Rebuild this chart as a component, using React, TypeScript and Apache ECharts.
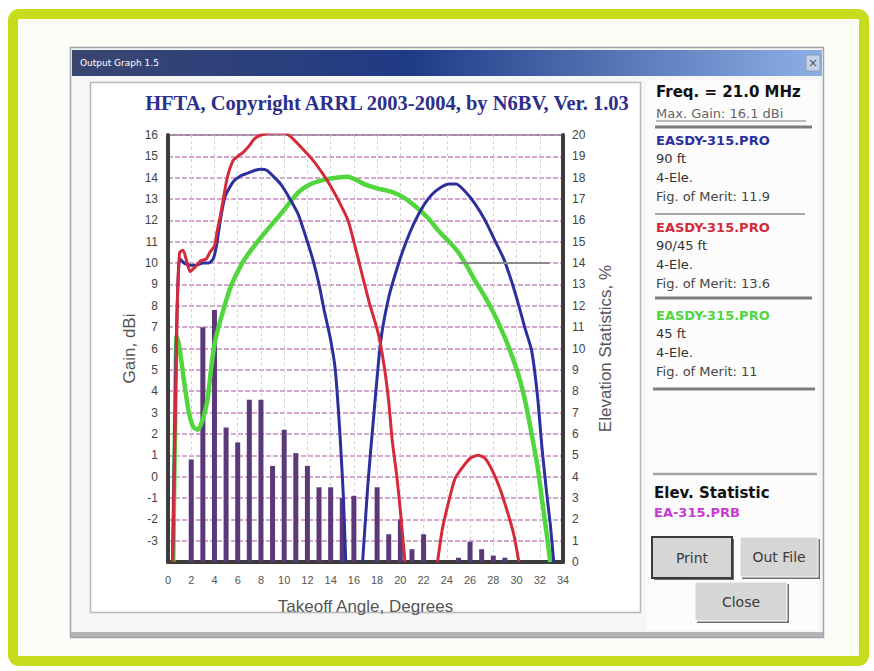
import React, { useEffect, useRef } from 'react';
import * as echarts from 'echarts';

// ---------- data ----------
const xMin = 0;
const xMax = 34;
const gainMin = -4;
const gainMax = 16;
const statMin = 0;
const statMax = 20;

// EASDY-315.PRO 90/45 ft (red)
const redAngles1 = [0.4, 0.6, 0.8, 1.0, 1.3, 1.6, 1.9, 2.3, 2.8, 3.3, 3.6, 4.0, 4.2, 4.5, 4.7, 5.1, 5.6, 6.0, 6.5, 7.0, 7.4, 8.0, 9.0, 10.0, 10.6, 11.5, 12.5, 13.3, 14.0, 14.8, 15.5, 16.0, 16.6, 17.3, 18.1, 18.6, 19.0, 19.3, 19.7, 20.0, 20.2, 20.4];
const redGain1 = [-4, 2.0, 8.0, 10.5, 10.6, 10.1, 9.6, 9.8, 10.1, 10.2, 10.5, 10.8, 11.4, 12.2, 12.8, 14.0, 14.8, 15.0, 15.2, 15.5, 15.8, 16.0, 16.1, 16.1, 15.9, 15.4, 14.8, 14.2, 13.6, 12.8, 12.0, 11.0, 9.7, 8.2, 6.7, 5.2, 3.5, 1.7, 0.0, -1.6, -2.8, -4];
const redAngles2 = [23.2, 23.6, 24.1, 24.7, 25.3, 26.0, 26.7, 27.3, 27.9, 28.6, 29.3, 29.8, 30.2];
const redGain2 = [-4, -2.5, -1.3, -0.1, 0.4, 0.85, 1.0, 0.85, 0.3, -0.6, -1.8, -2.8, -4];

// EASDY-315.PRO 90 ft (blue)
const blueAngles1 = [0.4, 0.7, 1.0, 1.4, 1.9, 2.4, 3.0, 3.5, 3.9, 4.2, 4.5, 4.9, 5.6, 6.3, 6.8, 7.5, 8.0, 8.5, 9.0, 9.7, 10.4, 11.2, 12.0, 12.5, 13.0, 13.4, 14.0, 14.4, 14.8, 15.1, 15.3];
const blueGain1 = [-4, 6.0, 10.2, 10.0, 9.9, 9.9, 10.0, 10.0, 10.2, 10.9, 12.0, 13.1, 13.8, 14.1, 14.2, 14.35, 14.4, 14.35, 14.1, 13.7, 13.1, 12.3, 11.0, 10.1, 9.0, 7.9, 6.4, 5.0, 2.0, -1.0, -4];
const blueAngles2 = [16.75, 17.2, 17.7, 18.3, 19.0, 19.8, 20.5, 21.2, 22.0, 22.7, 23.5, 24.2, 24.8, 25.5, 26.4, 27.3, 28.1, 28.9, 29.6, 30.2, 30.7, 31.3, 31.8, 32.2, 32.6, 32.9, 33.2];
const blueGain2 = [-4, -0.4, 2.8, 6.3, 8.4, 9.9, 11.0, 11.9, 12.7, 13.2, 13.55, 13.7, 13.7, 13.4, 12.8, 12.0, 11.1, 10.2, 9.1, 8.0, 7.0, 5.9, 3.8, 1.3, -0.8, -2.2, -4];

// EASDY-315.PRO 45 ft (green)
const greenAngles = [0.45, 0.6, 0.75, 1.0, 1.4, 1.8, 2.2, 2.6, 3.0, 3.4, 3.7, 4.0, 4.5, 5.4, 6.5, 8.0, 9.7, 11.2, 12.3, 13.4, 14.5, 15.5, 16.2, 16.9, 18.0, 19.2, 20.2, 21.2, 22.4, 23.3, 24.2, 25.0, 25.8, 26.4, 27.2, 27.9, 28.6, 29.3, 30.2, 30.8, 31.3, 31.8, 32.2, 32.6, 32.9];
const greenGain = [-4, 2.0, 6.6, 6.0, 4.4, 3.0, 2.3, 2.2, 2.7, 3.6, 5.0, 6.2, 7.3, 8.9, 10.1, 11.2, 12.3, 13.3, 13.7, 13.9, 14.0, 14.05, 13.9, 13.7, 13.5, 13.35, 13.1, 12.7, 12.1, 11.5, 11.0, 10.5, 9.8, 9.2, 8.5, 7.8, 7.0, 6.1, 4.7, 3.4, 2.0, 0.5, -1.1, -2.7, -4];

// Elevation statistics (%), right axis
const statAngles = [2, 3, 4, 5, 6, 7, 8, 9, 10, 11, 12, 13, 14, 15, 16, 17, 18, 19, 20, 21, 22, 23, 24, 25, 26, 27, 28, 29];
const statPercent = [4.8, 11.0, 11.8, 6.3, 5.6, 7.6, 7.6, 4.5, 6.2, 5.1, 4.5, 3.5, 3.5, 3.0, 3.1, 0, 3.5, 1.3, 2.0, 0.6, 1.3, 0, 0, 0.2, 0.95, 0.6, 0.3, 0.2];

// gray reference segment
const refGain = 10;
const refFrom = 25.0;
const refTo = 32.8;

// texts
const chartTitle = 'HFTA, Copyright ARRL 2003-2004, by N6BV, Ver. 1.03';
const windowTitle = 'Output Graph 1.5';
const freqText = 'Freq. = 21.0 MHz';
const maxGainText = 'Max. Gain: 16.1 dBi';
const antennaNames = ['EASDY-315.PRO', 'EASDY-315.PRO', 'EASDY-315.PRO'];
const antennaHeights = ['90 ft', '90/45 ft', '45 ft'];
const antennaElements = ['4-Ele.', '4-Ele.', '4-Ele.'];
const antennaMerit = ['Fig. of Merit: 11.9', 'Fig. of Merit: 13.6', 'Fig. of Merit: 11'];
const statTitle = 'Elev. Statistic';
const statFile = 'EA-315.PRB';

const pairs = (xs: number[], ys: number[]) => xs.map((x, i) => [x, ys[i]]);

const RED = '#d42a3a';
const BLUE = '#2c2f9c';
const GREEN = '#52d63e';
const PURPLE = '#5b3878';

const SANS = '"DejaVu Sans"';

export default function App() {
  const ref = useRef<HTMLDivElement>(null);

  useEffect(() => {
    if (!ref.current) return;
    const chart = echarts.init(ref.current, undefined, { renderer: 'svg' });

    const txt = (x: number, y: number, text: string, font: string, fill: string, align = 'left', extra: any = {}) => ({
      type: 'text',
      x,
      y,
      z: 50,
      style: { text, font, fill, textAlign: align, textVerticalAlign: 'middle' },
      ...extra,
    });
    const hline = (x1: number, x2: number, y: number, color: string, w: number) => ({
      type: 'line',
      z: 40,
      shape: { x1, y1: y, x2, y2: y },
      style: { stroke: color, lineWidth: w },
    });

    const legendColors = [BLUE, RED, GREEN];
    const blockTops = [140, 227, 315];
    const legendBlocks: any[] = [];
    antennaNames.forEach((n, i) => {
      const t = blockTops[i];
      legendBlocks.push(txt(656, t, n, `bold 13px ${SANS}`, legendColors[i]));
      legendBlocks.push(txt(656, t + 18.5, antennaHeights[i], `13px ${SANS}`, '#333'));
      legendBlocks.push(txt(656, t + 37, antennaElements[i], `13px ${SANS}`, '#333'));
      legendBlocks.push(txt(656, t + 56, antennaMerit[i], `13px ${SANS}`, '#444'));
    });

    const button = (x: number, y: number, w: number, h: number, label: string, focused: boolean) => [
      {
        type: 'rect', z: 40,
        shape: { x: x + 2, y: y + 2, width: w, height: h },
        style: { fill: '#6e6e6e' },
      },
      {
        type: 'rect', z: 41,
        shape: { x, y, width: w, height: h },
        style: { fill: '#d6d6d6', stroke: focused ? '#3a3a3a' : '#ffffff', lineWidth: focused ? 2 : 1 },
      },
      txt(x + w / 2, y + h / 2, label, `14px ${SANS}`, '#3a3a3a', 'center'),
    ];

    const elements: any[] = [
      // lime frame
      {
        type: 'rect', z: -20,
        shape: { x: 13, y: 14, width: 851, height: 647, r: 6 },
        style: { fill: '#fdfdf8', stroke: '#c8dc1e', lineWidth: 10 },
      },
      // dialog
      {
        type: 'rect', z: -15,
        shape: { x: 70.5, y: 47.5, width: 753, height: 590 },
        style: { fill: '#f6f6f6', stroke: '#9ea4ae', lineWidth: 1.5 },
      },
      {
        type: 'rect', z: -14,
        shape: { x: 71, y: 632, width: 752, height: 5 },
        style: { fill: '#b4b4b4' },
      },
      // title bar
      {
        type: 'rect', z: -14,
        shape: { x: 72, y: 50, width: 750, height: 26 },
        style: {
          fill: new echarts.graphic.LinearGradient(0, 0, 1, 0, [
            { offset: 0, color: '#3a4670' },
            { offset: 0.45, color: '#1f3a86' },
            { offset: 1, color: '#8cb0e6' },
          ]),
        },
      },
      txt(80, 63, windowTitle, `9px ${SANS}`, '#ffffff'),
      {
        type: 'rect', z: -13,
        shape: { x: 806, y: 55, width: 14, height: 16 },
        style: { fill: '#c4d2ea', stroke: '#8a9ab8', lineWidth: 1 },
      },
      txt(813, 63, '×', `12px ${SANS}`, '#555', 'center'),
      // chart panel
      {
        type: 'rect', z: -12,
        shape: { x: 90.5, y: 82.5, width: 550, height: 530 },
        style: { fill: '#ffffff', stroke: '#b8b8b8', lineWidth: 1.5 },
      },
      // legend panel
      {
        type: 'rect', z: -12,
        shape: { x: 646, y: 80, width: 173, height: 550 },
        style: { fill: '#fcfcfc' },
      },
      txt(387, 103, chartTitle, 'bold 20.5px "Liberation Serif"', '#2e2e8c', 'center'),
      // legend texts
      txt(656, 92, freqText, `bold 15px ${SANS}`, '#111'),
      txt(656, 113, maxGainText, `13px ${SANS}`, '#666'),
      hline(656, 806, 121, '#777', 1),
      hline(655, 812, 127, '#7c7c7c', 3),
      ...legendBlocks,
      hline(655, 805, 214, '#a8a8a8', 2),
      hline(655, 812, 298, '#7c7c7c', 3),
      hline(653, 815, 389, '#7c7c7c', 3),
      hline(653, 817, 474, '#a6a6a6', 2.5),
      txt(654, 493, statTitle, `bold 15px ${SANS}`, '#111'),
      txt(654, 512, statFile, `bold 13px ${SANS}`, '#c83ad2'),
      ...button(652, 537, 80, 41, 'Print', true),
      ...button(740, 537, 78, 40, 'Out File', false),
      ...button(695, 582, 92, 39, 'Close', false),
      hline(677, 685, 567, '#3a3a3a', 1),
      hline(725, 735, 611, '#3a3a3a', 1),
    ];

    const option: any = {
      animation: false,
      backgroundColor: '#ffffff',
      textStyle: { fontFamily: 'Liberation Sans' },
      graphic: { elements },
      grid: {
        left: 168, top: 135, width: 395, height: 427,
        show: true, backgroundColor: '#ffffff', borderColor: '#8c8c8c', borderWidth: 2,
      },
      xAxis: {
        type: 'value', min: xMin, max: xMax, interval: 2,
        name: 'Takeoff Angle, Degrees', nameLocation: 'middle', nameGap: 36,
        nameTextStyle: { fontSize: 17, color: '#555', fontFamily: 'Liberation Sans' },
        axisLine: { show: true, onZero: false, lineStyle: { color: '#3c3c3c', width: 4 } },
        axisTick: { show: false },
        axisLabel: { fontSize: 11, color: '#555', margin: 12, fontFamily: 'Liberation Sans' },
        splitLine: { show: true, lineStyle: { color: '#d2d2d2', type: [3, 3], width: 1 } },
      },
      yAxis: [
        {
          type: 'value', min: gainMin, max: gainMax, interval: 1, position: 'left',
          name: 'Gain, dBi', nameLocation: 'middle', nameGap: 30, nameRotate: 90,
          nameTextStyle: { fontSize: 17, color: '#555', fontFamily: 'Liberation Sans' },
          axisLine: { show: true, lineStyle: { color: '#3c3c3c', width: 4 } },
          axisTick: { show: false },
          axisLabel: {
            fontSize: 12, color: '#444', margin: 10, fontFamily: 'Liberation Sans',
            formatter: (v: number) => (v === gainMin ? '' : String(v)),
          },
          splitLine: { show: true, lineStyle: { color: '#c68cc2', type: [5, 2], width: 1.5 } },
        },
        {
          type: 'value', min: statMin, max: statMax, interval: 1, position: 'right',
          name: 'Elevation Statistics, %', nameLocation: 'middle', nameGap: 34, nameRotate: 90,
          nameTextStyle: { fontSize: 17, color: '#555', fontFamily: 'Liberation Sans' },
          axisLine: { show: true, lineStyle: { color: '#3c3c3c', width: 4 } },
          axisTick: { show: false },
          axisLabel: { fontSize: 12, color: '#444', margin: 9, fontFamily: 'Liberation Sans' },
          splitLine: { show: false },
        },
      ],
      series: [
        {
          type: 'bar', yAxisIndex: 1, barWidth: 5,
          data: pairs(statAngles, statPercent),
          itemStyle: { color: PURPLE },
        },
        {
          type: 'line', data: pairs(greenAngles, greenGain), symbol: 'none', smooth: 0.2,
          lineStyle: { color: GREEN, width: 4.5 },
        },
        {
          type: 'line', data: pairs(blueAngles1, blueGain1), symbol: 'none', smooth: 0.2,
          lineStyle: { color: BLUE, width: 3 },
        },
        {
          type: 'line', data: pairs(blueAngles2, blueGain2), symbol: 'none', smooth: 0.2,
          lineStyle: { color: BLUE, width: 3 },
          markLine: {
            silent: true, symbol: 'none', label: { show: false },
            lineStyle: { color: '#8a8a8a', width: 2, type: 'solid' },
            data: [[{ coord: [refFrom, refGain] }, { coord: [refTo, refGain] }]],
          },
        },
        {
          type: 'line', data: pairs(redAngles1, redGain1), symbol: 'none', smooth: 0.2,
          lineStyle: { color: RED, width: 3 },
        },
        {
          type: 'line', data: pairs(redAngles2, redGain2), symbol: 'none', smooth: 0.2,
          lineStyle: { color: RED, width: 3 },
        },
      ],
    };

    chart.setOption(option);
    return () => chart.dispose();
  }, []);

  return (
    <div style={{ position: 'fixed', left: 0, top: 0, width: 874, height: 671, background: '#fff' }}>
      <div ref={ref} style={{ width: 874, height: 671 }} />
    </div>
  );
}
